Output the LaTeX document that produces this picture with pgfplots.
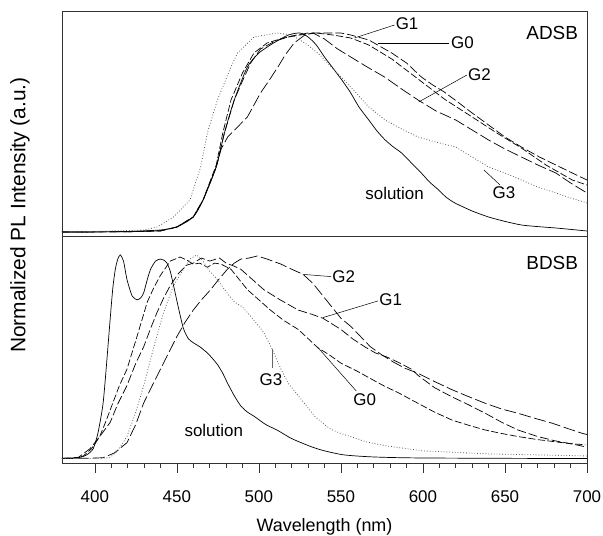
\documentclass[border=0pt]{standalone}
\usepackage{fontspec}
\setmainfont{Liberation Sans}
\usepackage{pgfplots}
\pgfplotsset{compat=1.18}

\tikzset{
  lab/.style={font=\fontsize{17}{19}\selectfont},
  lead/.style={black, line width=0.5pt},
}
\pgfplotsset{
  panel/.style={
    width=525bp, height=225bp, scale only axis,
    xmin=380, xmax=700,
    ytick=\empty,
    axis line style={line width=0.6pt, black!80},
    clip=true,
  },
  sol/.style={black, line width=0.7pt, smooth, tension=0.4},
  gzero/.style={black, line width=0.7pt, dash pattern=on 7pt off 2.5pt},
  gone/.style={black, line width=0.7pt, dash pattern=on 9pt off 3pt},
  gtwo/.style={black, line width=0.7pt, dash pattern=on 12pt off 3.5pt},
  gthree/.style={black!65, line width=0.8pt, dash pattern=on 0.8pt off 2pt},
}

\begin{document}
\begin{tikzpicture}
\useasboundingbox (-62bp,-73bp) rectangle (541bp,463bp);

% ---- bottom panel: BDSB ----
\begin{axis}[panel, height=227bp, at={(0,0)}, anchor=south west,
  ymin=-0.0196, ymax=1.093,
  xtick={400,450,...,700},
  minor x tick num=4,
  tick align=outside,
  major tick length=10bp, minor tick length=5bp,
  xtick pos=bottom,
  tick style={black!80, line width=0.6pt},
  xticklabel style={font=\fontsize{17}{19}\selectfont, yshift=-14bp},
  /pgf/number format/assume math mode=true,
  xlabel={Wavelength (nm)},
  xlabel style={font=\fontsize{18}{20}\selectfont, at={(axis description cs:0.5,0)}, anchor=center, yshift=-64bp},
]
\addplot[sol] coordinates {
(380,0.003)(390,0.006)(395,0.02)(399,0.05)(402,0.13)(405,0.27)(407,0.45)(409.4,0.69)
(411,0.84)(412.5,0.93)(414,0.98)(415.5,1.0)(417.5,0.97)(419.6,0.88)(422.7,0.8)(425.7,0.78)
(428,0.79)(429.8,0.815)(432,0.88)(434,0.93)(437,0.97)(440,0.98)(442,0.975)(444,0.96)
(446,0.92)(448,0.85)(451,0.74)(454,0.64)(457,0.59)(460,0.57)(464,0.55)(468.6,0.52)
(472,0.49)(475,0.46)(478,0.42)(481,0.37)(485,0.31)(489,0.26)(493,0.23)(497,0.21)
(504,0.17)(511.5,0.14)(520,0.1)(532,0.06)(540,0.04)(552,0.02)(570,0.01)(600,0.005)(700,0.002)};
\addplot[gzero] coordinates {
(380,0.003)(388,0.005)(393,0.015)(398,0.05)(403,0.11)(407,0.19)(411,0.275)(415,0.36)
(419.6,0.44)(425.7,0.6)(432,0.77)(436,0.84)(440,0.9)(446,0.97)(452,0.99)(456,0.975)
(460,0.955)(464,0.96)(468.6,0.94)(473,0.96)(477,0.955)(483,0.93)(488,0.88)(493,0.83)
(500,0.78)(507,0.73)(515,0.68)(524,0.635)(530,0.59)(536,0.545)(543,0.51)(550,0.47)
(560,0.43)(569,0.39)(577,0.355)(585,0.325)(593,0.29)(597,0.273)(607,0.23)(618,0.19)
(628,0.165)(638,0.142)(648,0.125)(658,0.11)(670,0.095)(680,0.085)(690,0.075)(699,0.07)};
\addplot[gone] coordinates {
(380,0.003)(390,0.008)(397,0.05)(403,0.11)(409.4,0.18)(414,0.27)(419.6,0.36)(425,0.47)
(429.8,0.55)(434,0.64)(438,0.72)(442,0.79)(446,0.85)(451,0.91)(456,0.95)(460,0.96)
(465,0.985)(470,0.97)(476,0.985)(480,0.96)(485,0.945)(489,0.93)(496,0.88)(503,0.83)
(513,0.78)(524,0.73)(532,0.71)(539,0.69)(545,0.66)(550,0.635)(557,0.59)(564.5,0.55)
(571,0.52)(578,0.5)(586,0.47)(593,0.44)(597,0.41)(607,0.35)(617.6,0.305)(628,0.265)
(638,0.224)(648,0.18)(658,0.142)(670,0.11)(680,0.09)(690,0.075)(699,0.06)};
\addplot[gtwo] coordinates {
(380,0.002)(395,0.004)(405,0.006)(412,0.03)(419.6,0.08)(425,0.17)(429.8,0.275)(435,0.36)
(440,0.44)(445,0.52)(450,0.6)(455,0.67)(460,0.73)(465,0.78)(470.6,0.83)(475,0.875)
(480.8,0.93)(485,0.96)(489,0.98)(494,0.985)(499,0.995)(505,0.98)(513.5,0.955)(520,0.93)
(527,0.905)(533,0.86)(538,0.81)(544,0.75)(550,0.69)(556,0.65)(562,0.6)(568,0.55)
(575,0.51)(582,0.475)(589,0.445)(597,0.42)(607,0.38)(617.6,0.34)(628,0.305)(638,0.273)
(648,0.245)(658,0.224)(668,0.2)(679,0.175)(688,0.15)(697,0.126)(700,0.12)};
\addplot[gthree] coordinates {
(380,0.002)(400,0.003)(409,0.006)(414,0.04)(419.6,0.11)(425,0.23)(429.8,0.36)(436,0.55)
(442,0.72)(448,0.85)(454,0.93)(458,0.98)(462,1.0)(466,0.97)(470,0.92)(474.7,0.88)
(480,0.82)(485,0.77)(490,0.745)(495,0.7)(500,0.65)(503,0.62)(508,0.54)(513.5,0.44)
(518,0.37)(524,0.31)(529,0.26)(534,0.21)(539,0.175)(544,0.145)(550,0.125)(556,0.11)
(565,0.085)(577,0.065)(600,0.04)(640,0.025)(700,0.015)};
\draw[lead] (axis cs:526.8,0.905) -- (axis cs:544.1,0.894);
\node[lab, anchor=west, inner sep=1pt] at (axis cs:544.1,0.894) {G2};
\draw[lead] (axis cs:539,0.693) -- (axis cs:572.7,0.775);
\node[lab, anchor=west, inner sep=1pt] at (axis cs:572.7,0.78) {G1};
\draw[lead] (axis cs:536,0.546) -- (axis cs:559.4,0.333);
\node[lab] at (axis cs:564.5,0.293) {G0};
\draw[lead, black!60] (axis cs:508.4,0.538) -- (axis cs:508.4,0.448);
\node[lab] at (axis cs:507.4,0.39) {G3};
\node[lab] at (axis cs:472.5,0.142) {solution};
\node[font=\fontsize{19}{21}\selectfont] at (axis cs:678.8,0.96) {BDSB};
\end{axis}

% ---- top panel: ADSB ----
\begin{axis}[panel, at={(0,227bp)}, anchor=south west,
  ymin=-0.015, ymax=1.11,
  xtick=\empty,
]
\addplot[sol] coordinates {
(380,0.005)(400,0.005)(420,0.008)(440,0.015)(450,0.03)(460,0.08)(466,0.165)(474,0.33)
(479,0.5)(485,0.665)(493,0.83)(500,0.9)(509,0.95)(518,0.99)(525,1.0)(530,0.98)(535,0.94)
(540,0.88)(546,0.815)(551,0.76)(556,0.7)(561,0.63)(567,0.565)(572,0.51)(577,0.465)
(582,0.43)(587,0.4)(593,0.35)(599,0.3)(604,0.255)(609.6,0.215)(614,0.18)(619.5,0.15)
(630,0.11)(640,0.08)(650,0.058)(660,0.04)(670,0.032)(681,0.025)(690,0.018)(700,0.01)};
\addplot[gzero] coordinates {
(380,0.005)(420,0.006)(440,0.012)(450,0.03)(460,0.08)(466,0.165)(474,0.34)(478,0.5)
(483,0.665)(490,0.8)(497,0.9)(505,0.95)(515,0.975)(525,0.99)(535,1.0)(545,0.99)
(556,0.975)(567,0.94)(581,0.87)(597,0.77)(613,0.67)(630,0.58)(645,0.5)(660,0.425)
(675,0.34)(691,0.265)(700,0.24)};
\addplot[gone] coordinates {
(380,0.005)(420,0.006)(440,0.01)(450,0.03)(460,0.08)(466,0.165)(474,0.33)(479,0.5)
(485,0.665)(490,0.76)(495,0.85)(501,0.92)(510,0.96)(520,0.985)(530,1.0)(540,1.0)
(550,1.0)(556,0.99)(567,0.965)(581,0.9)(590,0.85)(599,0.78)(606,0.74)(613,0.705)
(622,0.65)(630,0.6)(640,0.54)(650,0.48)(660,0.43)(671,0.38)(681,0.34)(691,0.3)(700,0.265)};
\addplot[gtwo] coordinates {
(380,0.005)(420,0.006)(440,0.01)(450,0.03)(460,0.08)(466,0.165)(474,0.33)(477,0.42)
(481,0.48)(487,0.53)(493,0.58)(497,0.64)(501,0.7)(506,0.76)(511.6,0.83)(516,0.89)
(521.5,0.95)(528,0.99)(533,1.0)(540,0.97)(548,0.92)(556,0.88)(566,0.83)(576.6,0.78)
(587,0.72)(597,0.665)(608,0.61)(620,0.565)(630,0.515)(640,0.465)(650,0.42)(660,0.38)
(670,0.34)(681,0.3)(690,0.25)(699,0.205)};
\addplot[gthree] coordinates {
(380,0.005)(400,0.008)(420,0.012)(430,0.015)(438,0.03)(448,0.08)(458,0.165)(464.5,0.33)
(468.6,0.5)(474.7,0.665)(483,0.83)(487,0.9)(497,0.98)(511,1.0)(520,0.99)(528,0.95)
(536,0.9)(546,0.815)(556,0.73)(567,0.63)(577,0.565)(587,0.52)(597,0.48)(610,0.45)
(620,0.43)(630,0.38)(640,0.33)(650,0.3)(660,0.265)(670,0.23)(681,0.2)(690,0.175)(700,0.15)};
\draw[lead] (axis cs:558.2,0.975) -- (axis cs:582.7,1.04);
\node[lab, anchor=west, inner sep=1pt] at (axis cs:582.7,1.045) {G1};
\draw[lead] (axis cs:572.9,0.95) -- (axis cs:615.8,0.95);
\node[lab, anchor=west, inner sep=1pt] at (axis cs:616.5,0.95) {G0};
\draw[lead] (axis cs:597.4,0.655) -- (axis cs:626.8,0.79);
\node[lab, anchor=west, inner sep=1pt] at (axis cs:626.8,0.79) {G2};
\draw[lead] (axis cs:637.2,0.315) -- (axis cs:647,0.24);
\node[lab] at (axis cs:649.4,0.2) {G3};
\node[lab] at (axis cs:582.7,0.2) {solution};
\node[font=\fontsize{19}{21}\selectfont] at (axis cs:678.8,1.0) {ADSB};
\end{axis}

\node[rotate=90, font=\fontsize{21}{23}\selectfont] at (-42bp,248bp) {Normalized PL Intensity (a.u.)};
\end{tikzpicture}
\end{document}
